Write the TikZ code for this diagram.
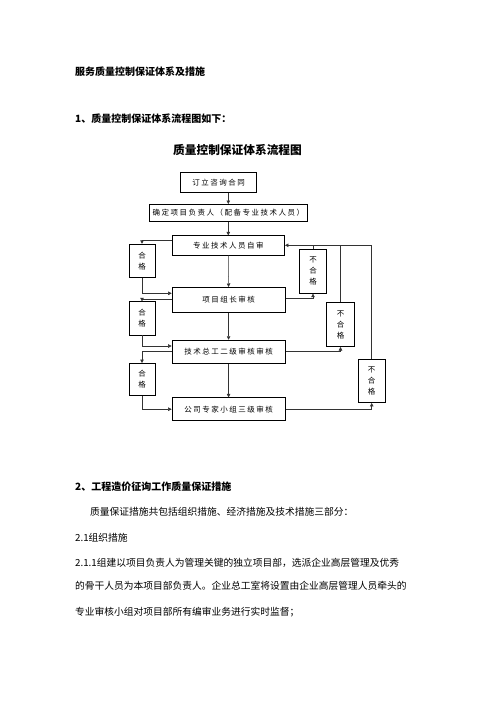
\documentclass[tikz,border=0pt]{standalone}
\usepackage{fontspec}
\setmainfont{Noto Sans CJK SC}
\usetikzlibrary{arrows.meta}

\begin{document}
\begin{tikzpicture}[x=1pt,y=-1pt,
    box/.style={draw=black,line width=0.6pt,inner sep=0pt,font=\fontsize{7.5}{9}\selectfont\addfontfeature{LetterSpace=20}},
    side/.style={box,align=center,font=\fontsize{7.5}{11}\selectfont},
    arr/.style={draw=black!80,line width=0.5pt,-{Triangle[length=3.5pt,width=3.5pt]}},
    ln/.style={draw=black!80,line width=0.5pt},
    txt/.style={anchor=west,inner sep=0pt,font=\fontsize{9.75}{10}\selectfont}]
    \useasboundingbox[fill=white] (0,0) rectangle (496,702);

    % headings
    \node[txt,font=\bfseries\fontsize{10}{10}\selectfont] (head) at (75,72) {服务质量控制保证体系及措施};
    \node[txt,font=\bfseries\fontsize{10}{10}\selectfont] (sec1) at (75,119) {1、质量控制保证体系流程图如下：};
    \node[inner sep=0pt,font=\bfseries\fontsize{11.7}{12}\selectfont] (title) at (237.5,150) {质量控制保证体系流程图};

    % main boxes
    \node[box,minimum width=76pt,minimum height=20pt] (hetong) at (218.7,182.3) {订立咨询合同};
    \node[box,minimum width=158pt,minimum height=17.4pt] (fuze) at (228.3,213) {确定项目负责人（配备专业技术人员）};
    \node[box,minimum width=112.7pt,minimum height=19.3pt] (zishen) at (228.3,245.3) {专业技术人员自审};
    \node[box,minimum width=113.3pt,minimum height=25pt] (zuzhang) at (228.6,299.8) {项目组长审核};
    \node[box,minimum width=113.3pt,minimum height=23.3pt] (zonggong) at (228.6,351.7) {技术总工二级审核审核};
    \node[box,minimum width=113.3pt,minimum height=23pt] (zhuanjia) at (228.6,409.2) {公司专家小组三级审核};

    % pass boxes (left)
    \node[side,minimum width=26pt,minimum height=33.3pt] (hg1) at (142,260.7) {合\\格};
    \node[side,minimum width=26pt,minimum height=33.3pt] (hg2) at (142,318.3) {合\\格};
    \node[side,minimum width=26pt,minimum height=32.4pt] (hg3) at (142,379.5) {合\\格};

    % fail boxes (right)
    \node[side,minimum width=27.4pt,minimum height=44.3pt] (bhg1) at (313,271.2) {不\\合\\格};
    \node[side,minimum width=27.6pt,minimum height=44.4pt] (bhg2) at (340.5,324.5) {不\\合\\格};
    \node[side,minimum width=26.7pt,minimum height=43.7pt] (bhg3) at (371.7,380.8) {不\\合\\格};

    % down the middle
    \draw[arr] (fuze.north |- hetong.south) -- (fuze.north);
    \draw[arr] (fuze.south) -- (zishen.north);
    \draw[arr] (zishen.south) -- (zuzhang.north);
    \draw[arr] (zuzhang.south) -- (zonggong.north);
    \draw[arr] (zonggong.south) -- (zhuanjia.north);

    % left loops
    \draw[arr] ([yshift=5.5pt]zishen.west) -| (hg1.north);
    \draw[arr] (hg1.south) |- ([yshift=6.5pt]zuzhang.west);
    \draw[arr] ([yshift=0.5pt]zuzhang.west) -| (hg2.north);
    \draw[arr] (hg2.south) |- ([yshift=5.7pt]zonggong.west);
    \draw[arr] ([yshift=0.7pt]zonggong.west) -| (hg3.north);
    \draw[arr] (hg3.south) |- (zhuanjia.west);

    % right loops
    \draw[arr] ([yshift=1.5pt]zuzhang.east) -| (bhg1.south);
    \draw[ln] (bhg1.north) -- (bhg1.north |- zishen.east);
    \draw[arr] ([yshift=0.7pt]zonggong.east) -| (bhg2.south);
    \draw[ln] (bhg2.north) -- (bhg2.north |- zishen.east);
    \draw[arr] (zhuanjia.east) -| (bhg3.south);
    \draw[arr] (bhg3.north) |- (zishen.east);

    % text below
    \node[txt,font=\bfseries\fontsize{10}{10}\selectfont] (sec2) at (75,486.7) {2、工程造价征询工作质量保证措施};
    \node[txt] (p1) at (90,511.7) {质量保证措施共包括组织措施、经济措施及技术措施三部分：};
    \node[txt] (p2) at (75,537.3) {2.1组织措施};
    \node[txt] (p3) at (75,563.3) {2.1.1组建以项目负责人为管理关键的独立项目部，选派企业高层管理及优秀};
    \node[txt] (p4) at (75,585.5) {的骨干人员为本项目部负责人。企业总工室将设置由企业高层管理人员牵头的};
    \node[txt] (p5) at (75,611.7) {专业审核小组对项目部所有编审业务进行实时监督；};
\end{tikzpicture}
\end{document}
